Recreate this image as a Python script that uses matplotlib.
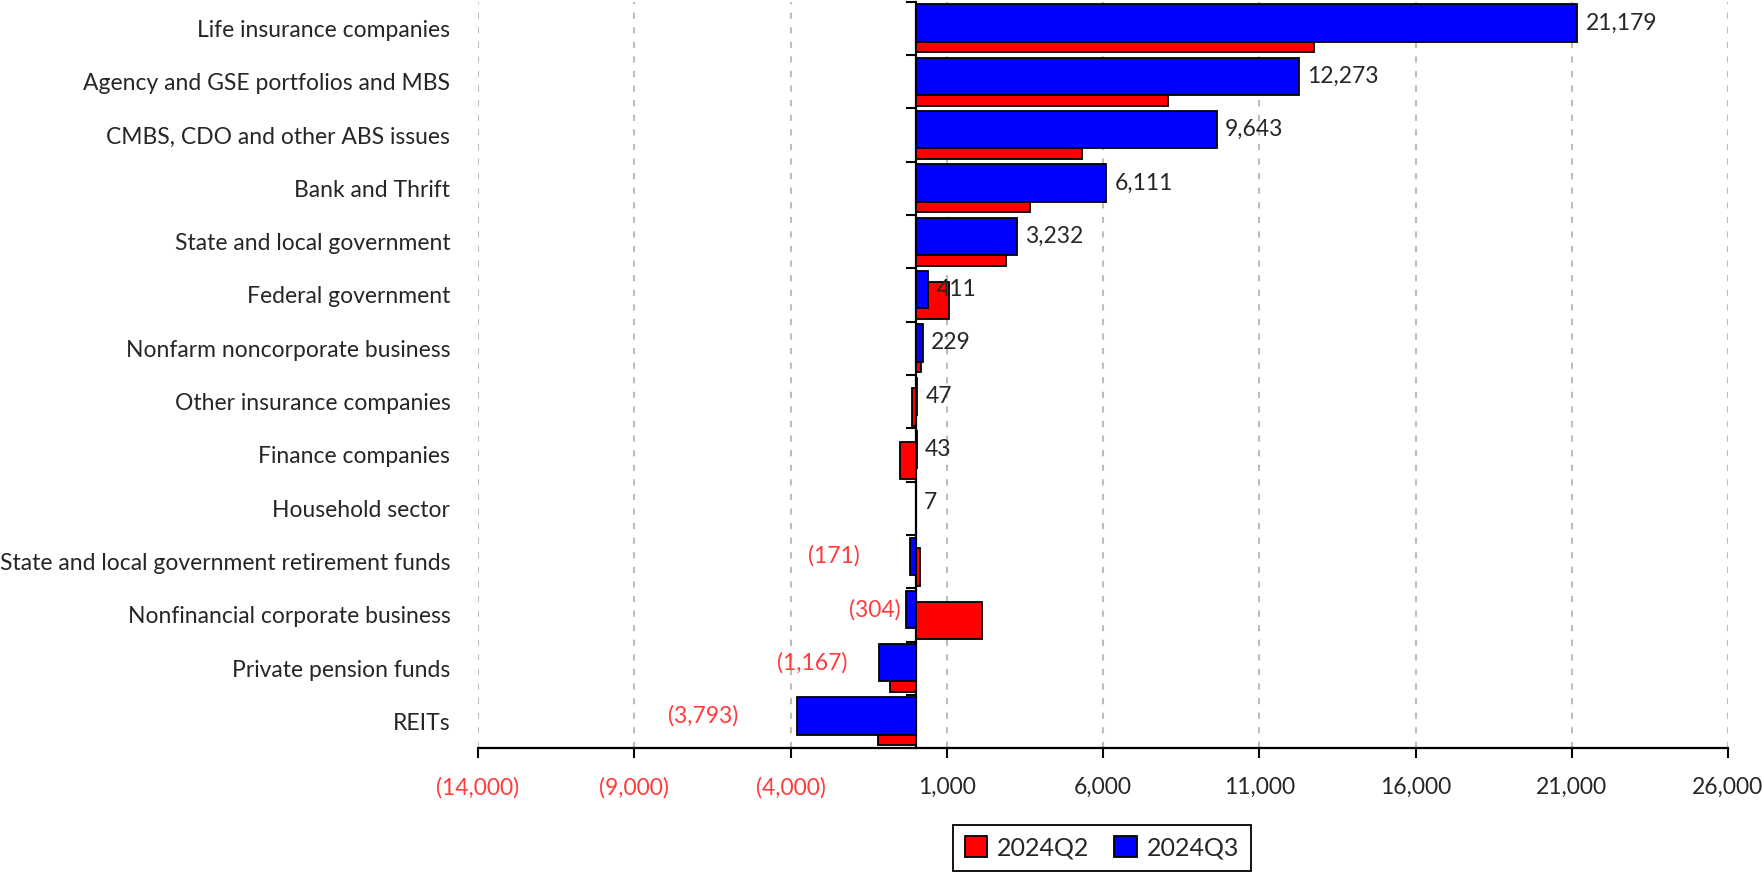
#!/usr/bin/env python3
# -*- coding: utf-8 -*-
import numpy as np
import matplotlib
matplotlib.use("Agg")
import matplotlib.pyplot as plt
from matplotlib.ticker import FixedLocator, FuncFormatter

# data: holders of mortgage debt, change by quarter
categories = ["Life insurance companies", "Agency and GSE portfolios and MBS",
              "CMBS, CDO and other ABS issues", "Bank and Thrift",
              "State and local government", "Federal government",
              "Nonfarm noncorporate business", "Other insurance companies",
              "Finance companies", "Household sector",
              "State and local government retirement funds",
              "Nonfinancial corporate business", "Private pension funds", "REITs"]
q2_values = [12750, 8080, 5330, 3670, 2900, 1060, 170, -120,
             -510, 5, 150, 2120, -830, -1210]
q3_values = [21179, 12273, 9643, 6111, 3232, 411, 229, 47,
             43, 7, -171, -304, -1167, -3793]
x_ticks = [-14000, -9000, -4000, 1000, 6000, 11000, 16000, 21000, 26000]

# label offsets (points) for the negative labels, left of bar end
neg_label_gap = {10: 36, 11: 4, 12: 23, 13: 42}

RED = "#ff0000"
BLUE = "#0000ff"
LABEL_RED = "#ff3c3c"
TEXT = "#262626"

plt.rcParams['font.family'] = ['Lato', 'DejaVu Sans']
plt.rcParams['font.size'] = 16.5

fig = plt.figure(figsize=(17.62, 8.75), dpi=100)
ax = fig.add_axes([0.2713, 0.145, 0.7094, 0.853])

y = np.arange(len(categories))
h = 0.7
ax.barh(y + 0.1, q2_values, height=h, color=RED, edgecolor="black",
        linewidth=1.3, label="2024Q2", zorder=2)
ax.barh(y - 0.1, q3_values, height=h, color=BLUE, edgecolor="black",
        linewidth=1.3, label="2024Q3", zorder=3)

ax.set_ylim(len(categories) - 0.5, -0.5)
ax.set_xlim(x_ticks[0], x_ticks[-1])

ax.set_yticks(y)
ax.set_yticklabels(categories, color=TEXT)
ax.tick_params(axis="y", length=0, pad=20)

def fmt(v, pos=None):
    if v < 0:
        return "({:,.0f})".format(-v)
    return "{:,.0f}".format(v)

ax.xaxis.set_major_locator(FixedLocator(x_ticks))
ax.xaxis.set_major_formatter(FuncFormatter(fmt))
ax.tick_params(axis="x", direction="out", length=7, width=1.5, pad=14,
               colors="black")
for lab, v in zip(ax.get_xticklabels(), x_ticks):
    lab.set_color(LABEL_RED if v < 0 else TEXT)

ax.grid(axis="x", color="#bdbdbd", linestyle=(0, (3, 4)), linewidth=1.5)
ax.set_axisbelow(True)

for s in ["top", "right", "left"]:
    ax.spines[s].set_visible(False)
ax.spines["bottom"].set_linewidth(1.6)

# vertical axis line at zero with boundary ticks
sec = ax.secondary_yaxis(0, transform=ax.transData)
sec.set_yticks(np.arange(len(categories) + 1) - 0.5)
sec.set_yticklabels([])
sec.tick_params(length=7, width=1.5, direction="out")
sec.spines["left"].set_linewidth(1.6)

for i, v in enumerate(q3_values):
    if v >= 0:
        ax.annotate(fmt(v), (v, i - 0.1), xytext=(6, 0),
                    textcoords="offset points", ha="left", va="center",
                    color=TEXT, zorder=5)
    else:
        ax.annotate(fmt(v), (v, i - 0.1), xytext=(-neg_label_gap[i], 0),
                    textcoords="offset points", ha="right", va="center",
                    color=LABEL_RED, zorder=5)

fig.legend(loc="center", bbox_to_anchor=(0.6254, 0.031), ncol=2,
           fancybox=False, edgecolor="black", framealpha=1,
           handlelength=0.9, handleheight=0.9, handletextpad=0.4,
           columnspacing=1.0, borderpad=0.45, fontsize=18,
           labelcolor=TEXT).get_frame().set_linewidth(1.3)

fig.savefig("out.png", dpi=100)
